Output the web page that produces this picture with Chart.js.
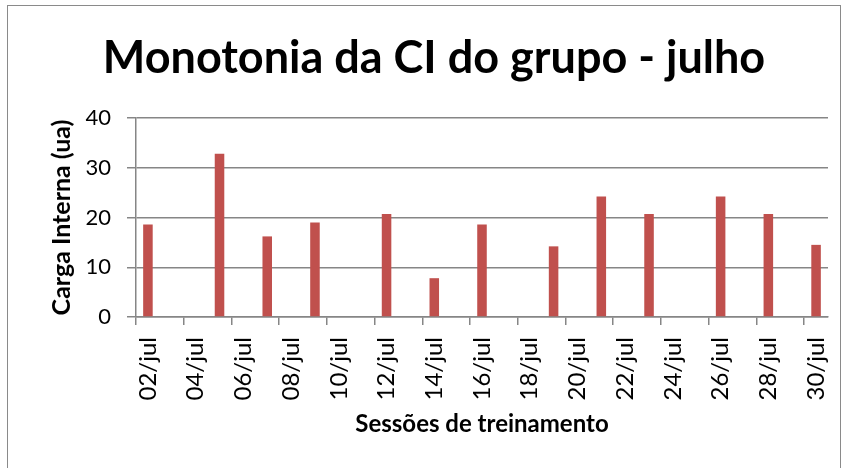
<!DOCTYPE html>
<html>
<head>
<meta charset="utf-8">
<script src="https://cdn.jsdelivr.net/npm/chart.js@4/dist/chart.umd.min.js"></script>
<style>
  html, body { margin: 0; padding: 0; background: #fff; }
  #wrap { position: relative; width: 846px; height: 468px; overflow: hidden; }
  #frame { position: absolute; left: 7px; top: 5px; width: 832px; height: 470px; border: 1px solid #8a8a8a; }
  canvas { position: absolute; left: 0; top: 0; }
</style>
</head>
<body>
<div id="wrap">
  <div id="frame"></div>
  <canvas id="monoChart" width="846" height="468"></canvas>
</div>
<script>
// Dias de julho (um por categoria)
const days = [
  "02/jul", "03/jul", "04/jul", "05/jul", "06/jul", "07/jul", "08/jul", "09/jul", "10/jul", "11/jul",
  "12/jul", "13/jul", "14/jul", "15/jul", "16/jul", "17/jul", "18/jul", "19/jul", "20/jul", "21/jul",
  "22/jul", "23/jul", "24/jul", "25/jul", "26/jul", "27/jul", "28/jul", "29/jul", "30/jul"
];

// Monotonia por sessão (null = sem treino)
const monotonia = [
  18.6, null, null, 32.8, null, 16.2, null, 19.0, null, null,
  20.7, null, 7.8, null, 18.6, null, null, 14.2, null, 24.2,
  null, 20.7, null, null, 24.2, null, 20.7, null, 14.5
];

const yTicks = [0, 10, 20, 30, 40];

const gridGray = "#868686";
const fontFamily = "Lato, 'Open Sans', sans-serif";

new Chart(document.getElementById("monoChart"), {
  type: "bar",
  data: {
    labels: days,
    datasets: [{
      label: "Monotonia",
      data: monotonia,
      backgroundColor: "#C0504D",
      borderWidth: 0,
      barPercentage: 0.4,
      categoryPercentage: 1
    }]
  },
  options: {
    responsive: false,
    animation: false,
    layout: { padding: { left: 40, right: 18, top: 0, bottom: 21 } },
    plugins: {
      legend: { display: false },
      tooltip: { enabled: false },
      title: {
        display: true,
        text: "Monotonia da CI do grupo - julho",
        color: "#000",
        font: { family: fontFamily, size: 45, weight: "bold" },
        padding: { top: 31, bottom: 33 }
      }
    },
    scales: {
      x: {
        offset: true,
        afterFit: scale => {
          scale.height = 130;
          // rotated labels should not shrink the plot
          scale.paddingLeft = 0;
          scale.paddingRight = 0;
        },
        grid: {
          offset: true,
          drawOnChartArea: false,
          drawTicks: true,
          tickLength: 8,
          lineWidth: 1.5,
          color: ctx => (ctx.index % 2 === 0 ? gridGray : "rgba(0,0,0,0)")
        },
        border: { color: gridGray, width: 1.5 },
        ticks: {
          autoSkip: false,
          maxRotation: 90,
          minRotation: 90,
          color: "#000",
          padding: 12,
          font: { family: fontFamily, size: 24 },
          callback: (val, i) => (i % 2 === 0 ? days[i] : "")
        },
        title: {
          display: true,
          text: "Sessões de treinamento",
          color: "#000",
          font: { family: fontFamily, size: 24, weight: "bold" },
          padding: { top: 4, bottom: 8 }
        }
      },
      y: {
        min: 0,
        max: 40,
        afterFit: scale => { scale.width = 96; },
        afterBuildTicks: scale => { scale.ticks = yTicks.map(v => ({ value: v })); },
        grid: {
          color: gridGray,
          lineWidth: 1.5,
          tickLength: 9
        },
        border: { color: gridGray, width: 1.5 },
        ticks: {
          color: "#000",
          padding: 16,
          font: { family: fontFamily, size: 22 }
        },
        title: {
          display: true,
          text: "Carga Interna (ua)",
          color: "#000",
          font: { family: fontFamily, size: 25, weight: "bold" },
          padding: { top: 7, bottom: 0 }
        }
      }
    }
  }
});
</script>
</body>
</html>
